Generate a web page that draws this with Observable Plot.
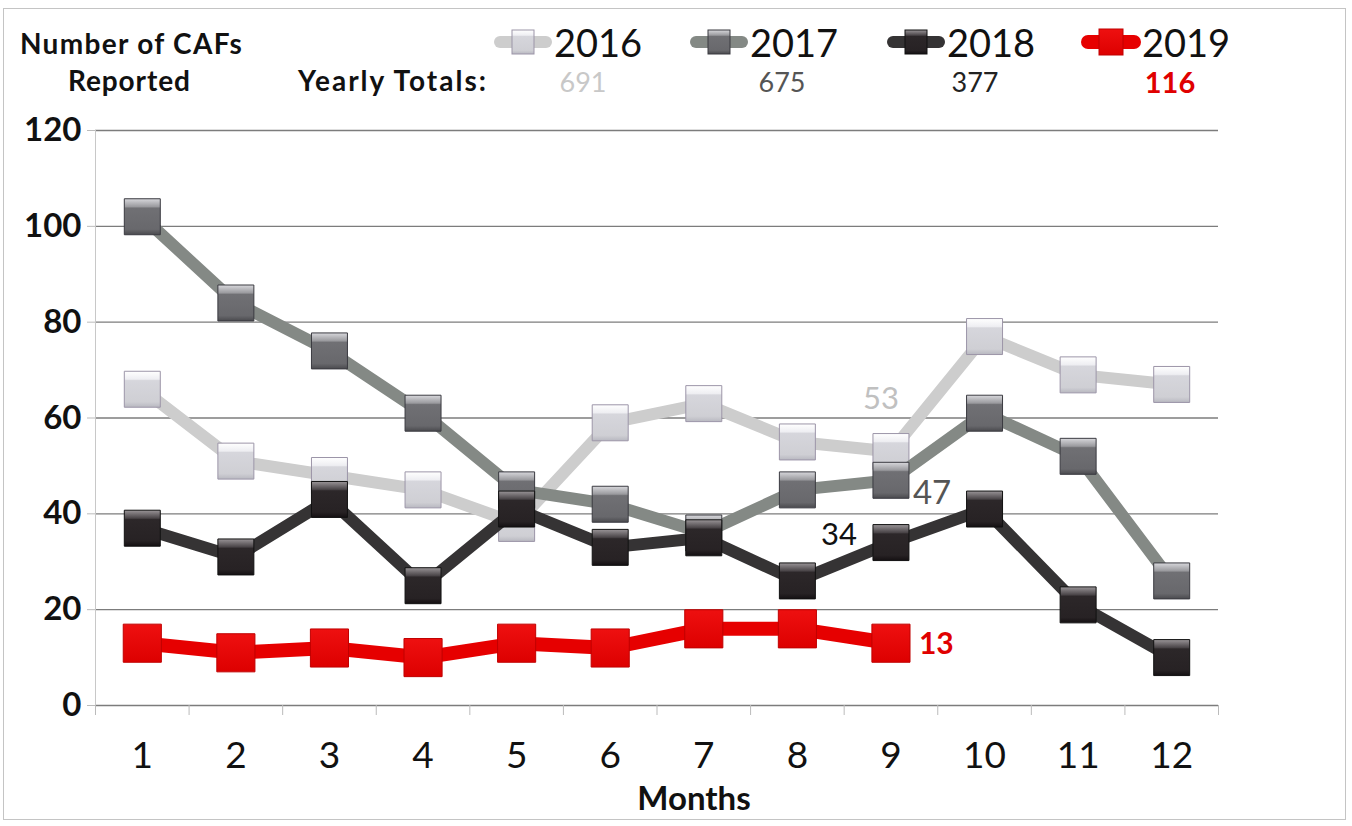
<!DOCTYPE html>
<html><head><meta charset="utf-8">
<script src="https://cdn.jsdelivr.net/npm/d3@7"></script>
<script src="https://cdn.jsdelivr.net/npm/@observablehq/plot@0.6"></script>
<style>
body{margin:0;background:#fff;font-family:Lato,"Open Sans",sans-serif;}
#frame{position:relative;width:1352px;height:826px;overflow:hidden;background:#fff;}
#border{position:absolute;left:3px;top:8px;width:1341px;height:810px;border:1px solid #c4c4c4;pointer-events:none;}
#header{position:relative;height:110px;}
.h{position:absolute;white-space:nowrap;color:#111;font-weight:bold;font-size:28px;line-height:34px;}
.leg{position:absolute;display:flex;align-items:center;height:44px;}
.leg span{font-size:38px;color:#111;margin-left:0px;}
.tot{position:absolute;font-size:27px;transform:translateX(-50%);top:64px;line-height:36px;}
#chart svg{display:block;overflow:visible;}
</style></head>
<body>
<svg width="0" height="0" style="position:absolute">
<defs>
<linearGradient id="g2016" x1="0" y1="0" x2="0" y2="1">
<stop offset="0" stop-color="#ffffff"/><stop offset="0.22" stop-color="#eeeef2"/><stop offset="0.26" stop-color="#d6d6dc"/><stop offset="0.85" stop-color="#cfcfd4"/><stop offset="1" stop-color="#b8b8c0"/>
</linearGradient>
<linearGradient id="g2017" x1="0" y1="0" x2="0" y2="1">
<stop offset="0" stop-color="#d8d8dc"/><stop offset="0.22" stop-color="#9a9a9e"/><stop offset="0.26" stop-color="#707074"/><stop offset="0.85" stop-color="#68686c"/><stop offset="1" stop-color="#4a4a4e"/>
</linearGradient>
<linearGradient id="g2018" x1="0" y1="0" x2="0" y2="1">
<stop offset="0" stop-color="#9a9598"/><stop offset="0.22" stop-color="#4a4548"/><stop offset="0.26" stop-color="#2c2729"/><stop offset="0.85" stop-color="#272224"/><stop offset="1" stop-color="#141012"/>
</linearGradient>
<linearGradient id="g2019" x1="0" y1="0" x2="0" y2="1">
<stop offset="0" stop-color="#ee1010"/><stop offset="1" stop-color="#dd0000"/>
</linearGradient>
</defs>
</svg>
<div id="frame">
<div id="header">
  <div class="h" style="left:20px;top:26px;letter-spacing:1.3px;">Number of CAFs</div>
  <div class="h" style="left:68px;top:63px;letter-spacing:0.9px;">Reported</div>
  <div class="h" style="left:298px;top:63px;letter-spacing:2px;">Yearly Totals:</div>
</div>
<div id="chart"></div>
<div id="border"></div>
</div>
<script>
const months = [1,2,3,4,5,6,7,8,9,10,11,12];
const years = ["2016","2017","2018","2019"];
const v2016 = [66,51,48,45,38,59,63,55,53,77,69,67];
const v2017 = [102,84,74,61,45,42,36,45,47,61,52,26];
const v2018 = [37,31,43,25,41,33,35,26,34,41,21,10];
const v2019 = [13,11,12,10,13,12,16,16,13];
const totals = [691,675,377,116];
const yTicks = [0,20,40,60,80,100,120];
const xTitle = "Months";

const series = [v2016, v2017, v2018, v2019];
const lineColors = ["#cdcdcd","#848985","#353334","#e60000"];
const markFill = ["url(#g2016)","url(#g2017)","url(#g2018)","url(#g2019)"];
const markStroke = ["#9c95a8","#3a3a40","#111","#c00000"];
const totalColors = ["#c8c8c8","#555","#222","#e00000"];
const labelColors = ["#c0c0c0","#555555","#111111","#e00000"];

const rows = [];
series.forEach((vals, i) => vals.forEach((v, j) => rows.push({year: years[i], month: months[j], value: v})));

// header legend + totals
const header = document.getElementById("header");
const legLeft = [492, 688, 885, 1080];
const totX = [583, 782, 975, 1170];
years.forEach((yr, i) => {
  const d = document.createElement("div");
  d.className = "leg";
  d.style.left = legLeft[i] + "px";
  d.style.top = "20px";
  const isRed = i === 3;
  d.innerHTML = `<svg width="62" height="40"><line x1="8" y1="20" x2="54" y2="20" stroke="${lineColors[i]}" stroke-width="${isRed?14:12}" stroke-linecap="round"/>` +
    `<rect x="${isRed?19:20}" y="${isRed?7:8}" width="${isRed?24:22}" height="${isRed?26:24}" fill="${markFill[i]}" stroke="${markStroke[i]}" stroke-width="1"/></svg><span>${yr}</span>`;
  header.appendChild(d);
  const t = document.createElement("div");
  t.className = "tot";
  t.style.left = totX[i] + "px";
  t.style.color = totalColors[i];
  if (isRed) { t.style.fontWeight = "bold"; t.style.fontSize = "29px"; }
  t.textContent = totals[i];
  header.appendChild(t);
});

const boundaries = [months[0] - 0.5, ...months.map(m => m + 0.5)];

const marks = [
  Plot.ruleY(yTicks, {y: d => d, stroke: "#7c7c7c", strokeWidth: 1.3}),
  Plot.ruleX([boundaries[0]], {stroke: "#c8c8c8", strokeWidth: 1}),
  Plot.axisY({ticks: yTicks, tickSize: 8, tickPadding: 6, fontSize: 33, fontWeight: "bold", label: null, stroke: "#bbb", color: "#111"}),
  Plot.axisX({ticks: boundaries, tickFormat: () => "", tickSize: 10, stroke: "#bbb", label: null}),
  Plot.axisX({ticks: months, tickSize: 0, tickPadding: 36, fontSize: 37, color: "#111", label: null}),
  Plot.text([xTitle], {text: d => d, frameAnchor: "bottom", dx: 37, dy: 104, fontSize: 33, fontWeight: "bold", fill: "#111", letterSpacing: "1px"})
];
years.forEach((yr, i) => {
  const data = rows.filter(r => r.year === yr);
  marks.push(Plot.line(data, {x: "month", y: "value", stroke: lineColors[i], strokeWidth: i === 3 ? 14 : 12, strokeLinejoin: "round"}));
  marks.push(Plot.dot(data, {x: "month", y: "value", symbol: "square", r: i === 3 ? 21.5 : 20.3, fill: markFill[i], stroke: markStroke[i], strokeWidth: 1}));
});
const last = yr => rows.filter(r => r.year === yr && r.month === 9);
marks.push(Plot.text(last("2016"), {x: "month", y: "value", text: "value", dx: -10, dy: -52, fontSize: 31, fill: labelColors[0]}));
marks.push(Plot.text(last("2017"), {x: "month", y: "value", text: "value", dx: 22, dy: 13, textAnchor: "start", fontSize: 33, fill: labelColors[1]}));
marks.push(Plot.text(last("2018"), {x: "month", y: "value", text: "value", dx: -34, dy: -8, textAnchor: "end", fontSize: 31, fill: labelColors[2]}));
marks.push(Plot.text(last("2019"), {x: "month", y: "value", text: "value", dx: 28, dy: 1, textAnchor: "start", fontSize: 30, fontWeight: "bold", fill: labelColors[3]}));

const chart = Plot.plot({
  width: 1352,
  height: 716,
  marginTop: 20,
  marginBottom: 121,
  marginLeft: 95,
  marginRight: 134,
  style: {fontFamily: "Lato, 'Open Sans', sans-serif", background: "transparent", overflow: "visible"},
  x: {type: "linear", domain: [boundaries[0], boundaries[boundaries.length - 1]]},
  y: {domain: [0, 120]},
  marks
});
document.getElementById("chart").appendChild(chart);
</script>
</body></html>
